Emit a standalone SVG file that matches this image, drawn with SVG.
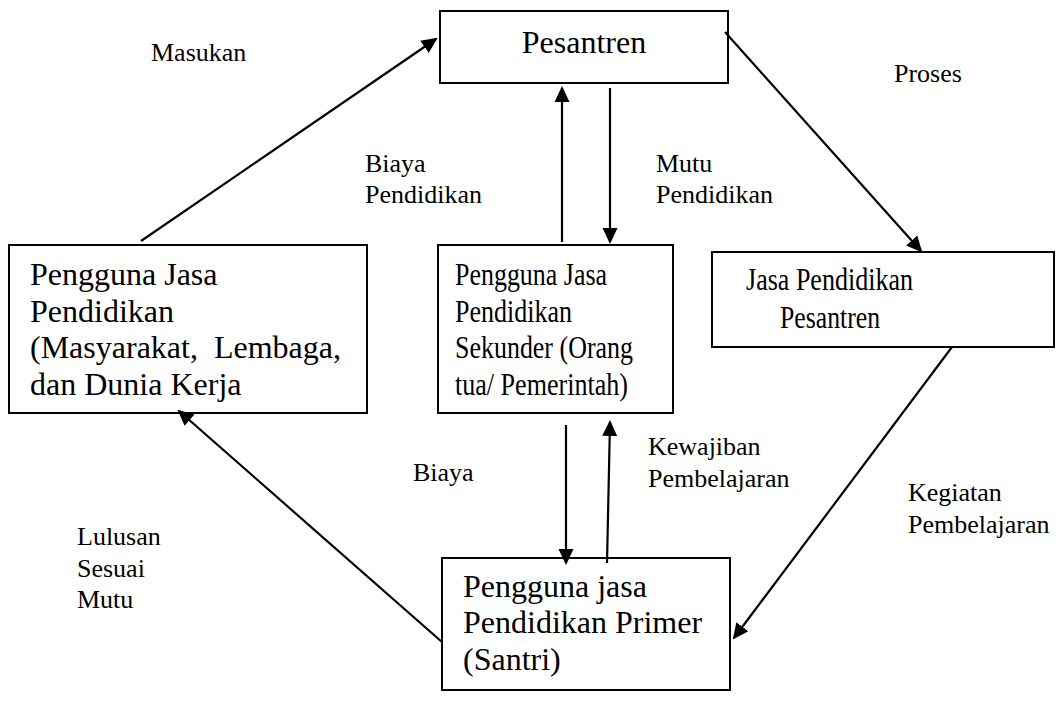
<svg xmlns="http://www.w3.org/2000/svg" width="1060" height="702" viewBox="0 0 1060 702">
<style>
.box{fill:#fff;stroke:#000;stroke-width:2}
.bt{font-family:'Liberation Serif','Times New Roman',serif;font-size:32px;fill:#000}
.lb{font-family:'Liberation Serif','Times New Roman',serif;font-size:26px;fill:#000}
.ln{stroke:#000;stroke-width:2.2;fill:none;marker-end:url(#ah)}
</style>
<defs>
<marker id="ah" markerUnits="userSpaceOnUse" markerWidth="16" markerHeight="16" refX="14" refY="8" orient="auto" viewBox="0 0 16 16">
<path d="M0,0.5 L16,8 L0,15.5 z" fill="#000"/>
</marker>
</defs>
<rect width="1060" height="702" fill="#fff"/>
<g id="pesantren">
<rect class="box" x="440" y="11" width="288" height="72"/>
<text class="bt" x="584" y="53" text-anchor="middle">Pesantren</text>
</g>
<g id="pengguna-jasa">
<rect class="box" x="9" y="245" width="358" height="168"/>
<text class="bt" x="30" y="285">Pengguna Jasa</text>
<text class="bt" x="30" y="322">Pendidikan</text>
<text class="bt" x="30" y="358">(Masyarakat,&#160; Lembaga,</text>
<text class="bt" x="30" y="395">dan Dunia Kerja</text>
</g>
<g id="sekunder">
<rect class="box" x="438" y="245" width="235" height="168"/>
<text class="bt" x="455" y="285" textLength="152" lengthAdjust="spacingAndGlyphs">Pengguna Jasa</text>
<text class="bt" x="455" y="322" textLength="117" lengthAdjust="spacingAndGlyphs">Pendidikan</text>
<text class="bt" x="455" y="358" textLength="178" lengthAdjust="spacingAndGlyphs">Sekunder (Orang</text>
<text class="bt" x="455" y="395" textLength="173" lengthAdjust="spacingAndGlyphs">tua/ Pemerintah)</text>
</g>
<g id="jasa-pesantren">
<rect class="box" x="712" y="252" width="342" height="95"/>
<text class="bt" x="746" y="290" textLength="167" lengthAdjust="spacingAndGlyphs">Jasa Pendidikan</text>
<text class="bt" x="780" y="328" textLength="100" lengthAdjust="spacingAndGlyphs">Pesantren</text>
</g>
<g id="primer">
<rect class="box" x="442" y="558" width="288" height="132"/>
<text class="bt" x="463" y="597">Pengguna jasa</text>
<text class="bt" x="463" y="633">Pendidikan Primer</text>
<text class="bt" x="463" y="670">(Santri)</text>
</g>
<g id="connectors">
<line class="ln" x1="141" y1="241" x2="436" y2="39"/>
<line class="ln" x1="562" y1="242" x2="562" y2="88"/>
<line class="ln" x1="610" y1="88" x2="610" y2="242"/>
<line class="ln" x1="725" y1="32" x2="921" y2="251"/>
<line class="ln" x1="952" y1="347" x2="734" y2="638"/>
<line class="ln" x1="566" y1="425" x2="566" y2="563"/>
<line class="ln" x1="607" y1="563" x2="610" y2="422"/>
<line class="ln" x1="442" y1="642" x2="179" y2="411"/>
</g>
<g id="labels">
<text class="lb" x="151" y="61">Masukan</text>
<text class="lb" x="894" y="82">Proses</text>
<text class="lb" x="365" y="172">Biaya</text>
<text class="lb" x="365" y="203">Pendidikan</text>
<text class="lb" x="656" y="172">Mutu</text>
<text class="lb" x="656" y="203">Pendidikan</text>
<text class="lb" x="413" y="481">Biaya</text>
<text class="lb" x="648" y="455">Kewajiban</text>
<text class="lb" x="648" y="487">Pembelajaran</text>
<text class="lb" x="77" y="545">Lulusan</text>
<text class="lb" x="77" y="577">Sesuai</text>
<text class="lb" x="77" y="608">Mutu</text>
<text class="lb" x="908" y="501">Kegiatan</text>
<text class="lb" x="908" y="533">Pembelajaran</text>
</g>
</svg>
